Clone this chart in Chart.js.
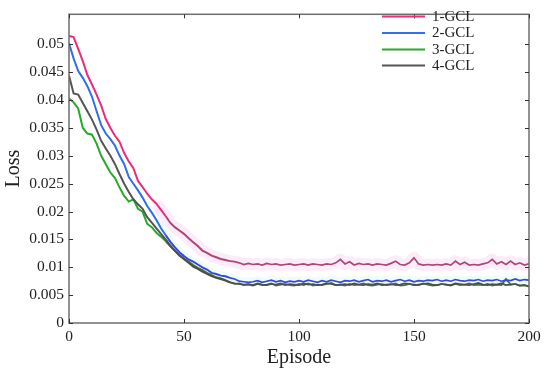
<!DOCTYPE html>
<html><head><meta charset="utf-8">
<script src="https://cdn.jsdelivr.net/npm/chart.js@4.4.1/dist/chart.umd.min.js"></script>
<style>html,body{margin:0;padding:0;background:#fff}#wrap{width:550px;height:373px}</style>
</head><body><div id="wrap"><canvas id="c" width="550" height="373"></canvas></div>
<script>
const episodes = Array.from({length:101},(_,i)=>i*2);
const seriesNames = ['1-GCL','2-GCL','3-GCL','4-GCL'];
const yTicks = [0,0.005,0.01,0.015,0.02,0.025,0.03,0.035,0.04,0.045,0.05];
const xTicks = [0,50,100,150,200];
const gcl1 = [
0.0515,0.0513,0.0492,0.0470,0.0445,0.0428,0.0410,0.0390,0.0366,0.0350,
0.0336,0.0325,0.0305,0.0290,0.0278,0.0255,0.0244,0.0232,0.0222,0.0214,
0.0203,0.0192,0.0180,0.0172,0.0166,0.0160,0.0152,0.0145,0.0138,0.0130,
0.0126,0.0121,0.0118,0.0115,0.0113,0.0111,0.0110,0.0108,0.0105,0.0107,
0.0105,0.0106,0.0104,0.0107,0.0105,0.0106,0.0104,0.0105,0.0106,0.0104,
0.0105,0.0106,0.0104,0.0106,0.0105,0.0104,0.0106,0.0105,0.0108,0.0114,
0.0106,0.0110,0.0104,0.0107,0.0105,0.0106,0.0104,0.0106,0.0105,0.0104,
0.0107,0.0111,0.0105,0.0104,0.0108,0.0117,0.0106,0.0104,0.0105,0.0104,
0.0105,0.0104,0.0106,0.0104,0.0111,0.0105,0.0109,0.0104,0.0105,0.0104,
0.0106,0.0108,0.0114,0.0106,0.0110,0.0105,0.0111,0.0105,0.0108,0.0104,
0.0106];
const gcl2 = [
0.0502,0.0475,0.0452,0.0440,0.0425,0.0406,0.0380,0.0355,0.0340,0.0330,
0.0318,0.0300,0.0285,0.0262,0.0250,0.0238,0.0225,0.0210,0.0198,0.0185,
0.0170,0.0158,0.0146,0.0136,0.0127,0.0120,0.0114,0.0110,0.0105,0.0100,
0.0096,0.0090,0.0088,0.0085,0.0084,0.0081,0.0079,0.0075,0.0074,0.0073,
0.0074,0.0076,0.0073,0.0075,0.0077,0.0074,0.0076,0.0073,0.0075,0.0074,
0.0076,0.0074,0.0077,0.0075,0.0073,0.0076,0.0074,0.0077,0.0075,0.0073,
0.0076,0.0075,0.0077,0.0074,0.0076,0.0078,0.0074,0.0076,0.0075,0.0077,
0.0074,0.0076,0.0078,0.0075,0.0077,0.0074,0.0076,0.0075,0.0077,0.0076,
0.0078,0.0075,0.0077,0.0075,0.0078,0.0076,0.0075,0.0077,0.0076,0.0078,
0.0075,0.0077,0.0076,0.0078,0.0075,0.0077,0.0076,0.0079,0.0076,0.0078,
0.0077];
const gcl3 = [
0.0403,0.0396,0.0385,0.0350,0.0340,0.0338,0.0322,0.0300,0.0285,0.0270,
0.0260,0.0243,0.0228,0.0218,0.0222,0.0205,0.0200,0.0178,0.0172,0.0162,
0.0155,0.0147,0.0138,0.0130,0.0122,0.0115,0.0110,0.0104,0.0099,0.0095,
0.0090,0.0086,0.0082,0.0080,0.0077,0.0073,0.0070,0.0071,0.0068,0.0069,
0.0067,0.0070,0.0068,0.0069,0.0071,0.0067,0.0069,0.0070,0.0068,0.0067,
0.0070,0.0068,0.0071,0.0067,0.0069,0.0068,0.0070,0.0072,0.0068,0.0069,
0.0067,0.0070,0.0068,0.0069,0.0071,0.0068,0.0067,0.0069,0.0070,0.0068,
0.0069,0.0071,0.0067,0.0068,0.0070,0.0069,0.0068,0.0071,0.0069,0.0067,
0.0068,0.0070,0.0069,0.0067,0.0070,0.0068,0.0069,0.0071,0.0068,0.0069,
0.0068,0.0070,0.0067,0.0069,0.0068,0.0079,0.0069,0.0070,0.0067,0.0068,
0.0065];
const gcl4 = [
0.0444,0.0412,0.0410,0.0395,0.0380,0.0365,0.0347,0.0327,0.0313,0.0300,
0.0285,0.0267,0.0250,0.0235,0.0222,0.0213,0.0205,0.0190,0.0180,0.0170,
0.0160,0.0150,0.0139,0.0130,0.0121,0.0115,0.0108,0.0101,0.0097,0.0092,
0.0088,0.0084,0.0081,0.0079,0.0076,0.0073,0.0071,0.0070,0.0069,0.0070,
0.0068,0.0071,0.0069,0.0068,0.0070,0.0069,0.0071,0.0068,0.0070,0.0069,
0.0068,0.0071,0.0069,0.0070,0.0068,0.0069,0.0071,0.0070,0.0068,0.0069,
0.0070,0.0068,0.0071,0.0069,0.0068,0.0070,0.0069,0.0071,0.0068,0.0069,
0.0070,0.0068,0.0069,0.0071,0.0070,0.0068,0.0069,0.0070,0.0071,0.0069,
0.0068,0.0070,0.0069,0.0068,0.0071,0.0070,0.0069,0.0068,0.0070,0.0072,
0.0069,0.0068,0.0070,0.0069,0.0071,0.0068,0.0069,0.0070,0.0067,0.0068,
0.0066];

const FONT = "'Liberation Serif','Times New Roman',serif";
const colors = ['#ee2a7b','#2f6fea','#2aa82a','#555555'];
const lateColors = ['#a84a72','#3b45e0','#3d7a25','#4d4d4d'];
const drawOrder = [0,1,3,2];
const SWITCH = 42;
function pts(arr){ return arr.map((v,i)=>({x:episodes[i], y:v})); }
function mainDs(i, arr){
  return {label:seriesNames[i], data:pts(arr), borderColor:colors[i], borderWidth:2,
    pointRadius:0, tension:0, fill:false, order:drawOrder[i],
    segment:{borderColor: ctx => ctx.p0.parsed.x >= SWITCH ? lateColors[i] : colors[i],
             borderWidth: ctx => ctx.p0.parsed.x >= 70 ? 1.7 : 2}};
}
function bandDs(arr, col, w){
  return {label:'_band', data:pts(arr), borderColor:col, borderWidth:w, pointRadius:0,
    tension:0.3, fill:false, order:20, borderCapStyle:'butt',
    segment:{borderColor: ctx => ctx.p0.parsed.x >= 38 ? col : 'rgba(0,0,0,0)'}};
}

const frameTicks = {
  id:'frameTicks',
  afterDatasetsDraw(chart){
    const {ctx, chartArea:a, scales:{x,y}} = chart;
    ctx.save();
    ctx.strokeStyle = '#6e6e6e';
    ctx.lineWidth = 1.5;
    ctx.strokeRect(a.left, a.top, a.right-a.left, a.bottom-a.top);
    ctx.lineWidth = 1;
    ctx.strokeStyle = '#333';
    const L = 4;
    ctx.beginPath();
    xTicks.forEach(v=>{ const px = Math.round(x.getPixelForValue(v))+0.5;
      ctx.moveTo(px,a.bottom); ctx.lineTo(px,a.bottom-L);
      ctx.moveTo(px,a.top); ctx.lineTo(px,a.top+L); });
    yTicks.forEach(v=>{ const py = Math.round(y.getPixelForValue(v))+0.5;
      ctx.moveTo(a.left,py); ctx.lineTo(a.left+L,py);
      ctx.moveTo(a.right,py); ctx.lineTo(a.right-L,py); });
    ctx.stroke();
    ctx.font = '15px ' + FONT;
    ctx.textBaseline = 'middle';
    ctx.fillStyle = '#222';
    const rows = [16.5, 33, 49.5, 65.5];
    for (let i=0;i<4;i++){
      const ds = chart.data.datasets[i];
      ctx.strokeStyle = colors[i]; ctx.lineWidth = 2;
      ctx.beginPath(); ctx.moveTo(382, rows[i]); ctx.lineTo(425, rows[i]); ctx.stroke();
      ctx.fillText(ds.label, 432, rows[i]+0.5);
    }
    ctx.restore();
  }
};

new Chart(document.getElementById('c'), {
  type:'line',
  data:{ datasets:[ mainDs(0,gcl1), mainDs(1,gcl2), mainDs(2,gcl3), mainDs(3,gcl4),
    bandDs(gcl1,'rgba(252,222,246,0.6)',12), bandDs(gcl2,'rgba(222,252,244,0.5)',9) ]},
  options:{
    responsive:false, animation:false, devicePixelRatio:1,
    layout:{padding:{top:5,right:21,left:0,bottom:0}},
    plugins:{legend:{display:false}, tooltip:{enabled:false}},
    scales:{
      x:{type:'linear', min:0, max:200,
        afterBuildTicks: s => { s.ticks = xTicks.map(v=>({value:v})); },
        afterFit: s => { s.height = 50; },
        grid:{display:false, drawTicks:false}, border:{display:false},
        ticks:{padding:5, color:'#222', font:{family:FONT, size:15.5}},
        title:{display:true, text:'Episode', color:'#222', padding:{top:0,bottom:3}, font:{family:FONT, size:20}}},
      y:{type:'linear', min:0, max:0.0554,
        afterBuildTicks: s => { s.ticks = yTicks.map(v=>({value:v})); },
        afterFit: s => { s.width = 69; },
        grid:{display:false, drawTicks:false}, border:{display:false},
        ticks:{padding:5, color:'#222', font:{family:FONT, size:15.5},
          callback: v => String(parseFloat(Number(v).toFixed(3)))},
        title:{display:true, text:'Loss', color:'#222', padding:{top:2,bottom:0}, font:{family:FONT, size:20}}}
    }
  },
  plugins:[frameTicks]
});
</script></body></html>
